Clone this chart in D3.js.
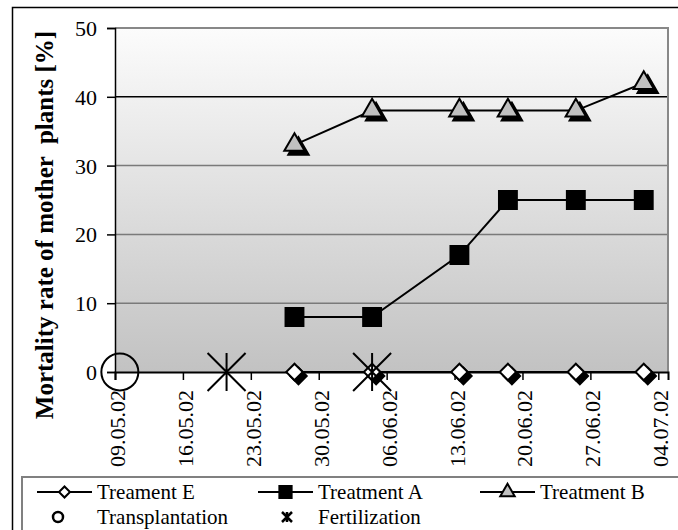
<!DOCTYPE html>
<html>
<head>
<meta charset="utf-8">
<script src="https://cdn.jsdelivr.net/npm/d3@7"></script>
<style>
  body { margin: 0; background: #fff; }
  svg { display: block; }
  text { font-family: "Liberation Serif", "Times New Roman", serif; fill: #000; }
</style>
</head>
<body>
<div id="vis"></div>
<script>
// Frame constants
const FRAME_WIDTH = 678;
const FRAME_HEIGHT = 530;
const PLOT = {left: 115, right: 668, top: 28, bottom: 372};

// Data
const DATES = ["27.05.02", "04.06.02", "13.06.02", "18.06.02", "25.06.02", "02.07.02"];
const TREATMENT_E = [0, 0, 0, 0, 0, 0];
const TREATMENT_A = [8, 8, 17, 25, 25, 25];
const TREATMENT_B = [33, 38, 38, 38, 38, 42];
const TRANSPLANT_DATES = ["09.05.02"];
const FERTILIZATION_DATES = ["20.05.02", "04.06.02"];
const X_TICKS = ["09.05.02", "16.05.02", "23.05.02", "30.05.02", "06.06.02",
                 "13.06.02", "20.06.02", "27.06.02", "04.07.02"];
const X_END = "05.07.02";
const Y_TICKS = [0, 10, 20, 30, 40, 50];
const Y_TITLE = "Mortality rate of mother  plants [%]";

const parse = d3.timeParse("%d.%m.%y");
// points sit in the middle of their day, as in the spreadsheet chart
const midDay = s => d3.timeHour.offset(parse(s), 12);

const svg = d3.select("#vis")
  .append("svg")
    .attr("width", FRAME_WIDTH)
    .attr("height", FRAME_HEIGHT);

// gradient for plot background
const grad = svg.append("defs").append("linearGradient")
    .attr("id", "bg").attr("x1", 0).attr("y1", 0).attr("x2", 0).attr("y2", 1);
grad.append("stop").attr("offset", "0%").attr("stop-color", "#fcfcfc");
grad.append("stop").attr("offset", "100%").attr("stop-color", "#c2c2c2");

// outer chart border
svg.append("rect")
    .attr("x", 12.5).attr("y", 7.5)
    .attr("width", 700).attr("height", 560)
    .attr("fill", "#fff").attr("stroke", "#000").attr("stroke-width", 1.5);

// scales
const X_SCALE = d3.scaleTime()
    .domain([parse(X_TICKS[0]), parse(X_END)])
    .range([PLOT.left, PLOT.right]);
const Y_SCALE = d3.scaleLinear()
    .domain([0, 50])
    .range([PLOT.bottom, PLOT.top]);

// plot area
svg.append("rect")
    .attr("x", PLOT.left).attr("y", PLOT.top)
    .attr("width", PLOT.right - PLOT.left).attr("height", PLOT.bottom - PLOT.top)
    .attr("fill", "url(#bg)");

// grid lines
svg.selectAll(".grid")
  .data(Y_TICKS.filter(v => v > 0 && v < 50))
  .enter().append("line")
    .attr("x1", PLOT.left).attr("x2", PLOT.right)
    .attr("y1", d => Y_SCALE(d)).attr("y2", d => Y_SCALE(d))
    .attr("stroke", d => d == 40 ? "#000" : "#7a7a7a")
    .attr("stroke-width", 1.5);

// gray frame on top and right
svg.append("path")
    .attr("d", "M" + PLOT.left + "," + PLOT.top + "H" + PLOT.right + "V" + PLOT.bottom)
    .attr("fill", "none").attr("stroke", "#888").attr("stroke-width", 2);

// y axis
const yAxis = svg.append("g")
    .attr("transform", "translate(" + PLOT.left + ",0)")
    .call(d3.axisLeft(Y_SCALE).tickValues(Y_TICKS).tickSize(8).tickPadding(10));
yAxis.select(".domain").attr("stroke", "#000").attr("stroke-width", 1.5);
yAxis.selectAll(".tick line").attr("stroke", "#000").attr("stroke-width", 1.5);
yAxis.selectAll(".tick text")
    .attr("font-size", "22px")
    .attr("dy", "0.34em");

// x axis
const xAxis = svg.append("g")
    .attr("transform", "translate(0," + PLOT.bottom + ")")
    .call(d3.axisBottom(X_SCALE)
      .tickValues(X_TICKS.map(parse))
      .tickFormat(d3.timeFormat("%d.%m.%y"))
      .tickSize(8));
xAxis.select(".domain").attr("stroke", "#000").attr("stroke-width", 2);
xAxis.selectAll(".tick line").attr("stroke", "#000").attr("stroke-width", 1.5);
xAxis.selectAll(".tick text")
    .attr("font-size", "22px")
    .attr("text-anchor", "end")
    .attr("dy", null)
    .attr("y", null)
    .attr("transform", "translate(9.5,18) rotate(-90)");

// y title (keeps the double space)
svg.append("text")
    .attr("transform", "translate(53,225) rotate(-90)")
    .attr("text-anchor", "middle")
    .attr("font-size", "25px")
    .attr("font-weight", "bold")
    .style("white-space", "pre")
    .text(Y_TITLE);

// symbol helpers
const triangle = d3.symbol(d3.symbolTriangle, 180)();
const square = d3.symbol(d3.symbolSquare, 320)();
const diamond = d3.symbol(d3.symbolSquare, 135)();

function asterisk(r) {
  const p = d3.path();
  p.moveTo(0, -r); p.lineTo(0, r);
  p.moveTo(-r, -r); p.lineTo(r, r);
  p.moveTo(-r, r); p.lineTo(r, -r);
  return p.toString();
}

const line = d3.line()
    .x(d => X_SCALE(midDay(d.date)))
    .y(d => Y_SCALE(d.value));

function drawSeries(values, shape, fill, rotate, shadow) {
  const data = DATES.map((d, i) => ({date: d, value: values[i]}));
  svg.append("path")
      .datum(data)
      .attr("d", line)
      .attr("fill", "none")
      .attr("stroke", "#000")
      .attr("stroke-width", 2);
  const rot = rotate ? " rotate(45)" : "";
  // shadow
  if (shadow) {
    svg.selectAll(null)
      .data(data).enter().append("path")
        .attr("d", shape)
        .attr("transform", d => "translate(" + (X_SCALE(midDay(d.date)) + 4) + "," +
              (Y_SCALE(d.value) + 4) + ")" + rot)
        .attr("fill", "#000").attr("stroke", "#000").attr("stroke-width", 2);
  }
  svg.selectAll(null)
    .data(data).enter().append("path")
      .attr("d", shape)
      .attr("transform", d => "translate(" + X_SCALE(midDay(d.date)) + "," +
            Y_SCALE(d.value) + ")" + rot)
      .attr("fill", fill).attr("stroke", "#000").attr("stroke-width", 2);
}

drawSeries(TREATMENT_E, diamond, "#fff", true, true);
drawSeries(TREATMENT_A, square, "#000", false, false);
drawSeries(TREATMENT_B, triangle, "#c0c0c0", false, true);

// events
svg.selectAll(null)
  .data(TRANSPLANT_DATES).enter().append("circle")
    .attr("cx", d => X_SCALE(midDay(d)))
    .attr("cy", Y_SCALE(0))
    .attr("r", 18.5)
    .attr("fill", "none").attr("stroke", "#000").attr("stroke-width", 2);

svg.selectAll(null)
  .data(FERTILIZATION_DATES).enter().append("path")
    .attr("d", asterisk(19))
    .attr("transform", d => "translate(" + X_SCALE(midDay(d)) + "," + Y_SCALE(0) + ")")
    .attr("fill", "none").attr("stroke", "#000").attr("stroke-width", 2);

// legend
svg.append("rect")
    .attr("x", 22).attr("y", 477)
    .attr("width", 700).attr("height", 100)
    .attr("fill", "#fff").attr("stroke", "#808080").attr("stroke-width", 2);

const LEGEND = [
  {label: "Treament E", x: 37, y: 492, shape: diamond, fill: "#fff", rot: true, line: true},
  {label: "Treatment A", x: 258, y: 492, shape: square, fill: "#000", rot: false, line: true},
  {label: "Treatment B", x: 480, y: 492, shape: triangle, fill: "#c0c0c0", rot: false, line: true},
  {label: "Transplantation", x: 37, y: 517, type: "circle"},
  {label: "Fertilization", x: 258, y: 517, type: "asterisk"}
];

LEGEND.forEach(item => {
  const g = svg.append("g").attr("transform", "translate(" + item.x + "," + item.y + ")");
  if (item.line) {
    g.append("line").attr("x1", 0).attr("x2", 55).attr("y1", 0).attr("y2", 0)
      .attr("stroke", "#000").attr("stroke-width", 2);
    const small = item.shape == square ? d3.symbol(d3.symbolSquare, 150)() :
                  item.shape == triangle ? d3.symbol(d3.symbolTriangle, 90)() :
                  d3.symbol(d3.symbolSquare, 60)();
    g.append("path").attr("d", small)
      .attr("transform", "translate(27.5,0)" + (item.rot ? " rotate(45)" : ""))
      .attr("fill", item.fill).attr("stroke", "#000").attr("stroke-width", 2);
  } else if (item.type == "circle") {
    g.append("circle").attr("cx", 21).attr("cy", 0).attr("r", 5)
      .attr("fill", "none").attr("stroke", "#000").attr("stroke-width", 2.5);
  } else {
    g.append("path").attr("d", asterisk(5))
      .attr("transform", "translate(29,0)")
      .attr("fill", "none").attr("stroke", "#000").attr("stroke-width", 2.5);
  }
  g.append("text")
    .attr("x", 60).attr("y", 0).attr("dy", "0.33em")
    .attr("font-size", "21px")
    .text(item.label);
});
</script>
</body>
</html>
